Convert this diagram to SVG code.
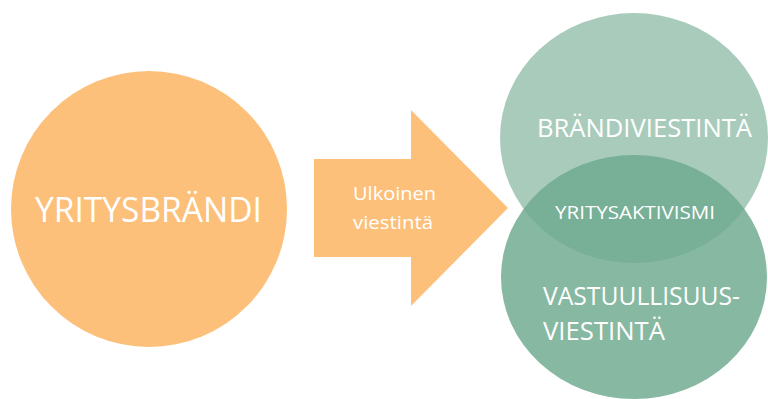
<svg xmlns="http://www.w3.org/2000/svg" width="768" height="399" viewBox="0 0 768 399">
<style>
text{font-family:"Open Sans","Liberation Sans",sans-serif;fill:#ffffff;}
.orange{fill:#FDC07A;}
</style>
<rect width="768" height="399" fill="#ffffff"/>
<g id="yritysbrandi">
<circle class="orange" cx="149" cy="209" r="138"/>
<text x="35" y="222" font-size="34" textLength="227" lengthAdjust="spacingAndGlyphs">YRITYSBRÄNDI</text>
</g>
<g id="connectors">
<g id="arrow">
<polygon class="orange" points="314,159 411,159 411,110 508,208 411,306 411,257 314,257"/>
<text x="353" y="200" font-size="19" textLength="83" lengthAdjust="spacingAndGlyphs">Ulkoinen</text>
<text x="353" y="229" font-size="19" textLength="80" lengthAdjust="spacingAndGlyphs">viestintä</text>
</g>
</g>
<g id="vastuullisuusviestinta">
<ellipse cx="634" cy="277" rx="133" ry="122" fill="#86B8A2"/>
</g>
<g id="brandiviestinta">
<ellipse cx="634" cy="138" rx="134" ry="125" fill="#70A88F" fill-opacity="0.6"/>
</g>
<g id="labels">
<text x="537" y="137" font-size="25" textLength="215" lengthAdjust="spacingAndGlyphs">BRÄNDIVIESTINTÄ</text>
<text x="555" y="219" font-size="18" textLength="160" lengthAdjust="spacingAndGlyphs">YRITYSAKTIVISMI</text>
<text x="543" y="305" font-size="25" textLength="197" lengthAdjust="spacingAndGlyphs">VASTUULLISUUS-</text>
<text x="543" y="340" font-size="25" textLength="122" lengthAdjust="spacingAndGlyphs">VIESTINTÄ</text>
</g>
</svg>
